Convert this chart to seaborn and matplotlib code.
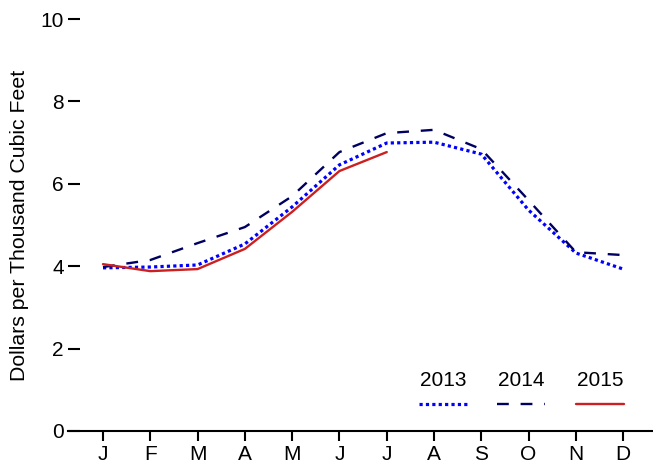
import numpy as np
import pandas as pd
import seaborn as sns
import matplotlib.pyplot as plt

meses = ["J", "F", "M", "A", "M", "J", "J", "A", "S", "O", "N", "D"]
precio_2013 = [3.96, 3.98, 4.03, 4.54, 5.44, 6.46, 6.99, 7.01, 6.72, 5.36, 4.32, 3.93]
precio_2014 = [3.98, 4.15, 4.56, 4.95, 5.70, 6.77, 7.23, 7.31, 6.84, 5.60, 4.34, 4.27]
precio_2015 = [4.05, 3.88, 3.93, 4.42, 5.32, 6.31, 6.77]

sns.set_style("white")
plt.rcParams['font.family'] = ['Liberation Sans', 'DejaVu Sans']
plt.rcParams['text.color'] = "black"
plt.rcParams['axes.labelcolor'] = "black"
plt.rcParams['xtick.color'] = "black"
plt.rcParams['ytick.color'] = "black"

fig = plt.figure(figsize=(6.53, 4.68), dpi=100)
ax = fig.add_axes([68/653, 37/468, 585/653, 412/468])

#estilos de cada serie
series = [
	("2013", precio_2013, "#0000ff", (0, (1, 1)), 2.3),
	("2014", precio_2014, "#000060", (0, (5, 5)), 1.7),
	("2015", precio_2015, "#cc2020", "-", 1.7),
]

for nombre, valores, color, estilo, ancho in series:
	df = pd.DataFrame({"x": np.arange(len(valores)), "y": valores})
	sns.lineplot(data=df, x="x", y="y", ax=ax, color=color, linewidth=ancho, linestyle=estilo)

ax.set_xlim(-0.74, 11.63)
ax.set_ylim(0, 10)
ax.set_xticks(range(12))
ax.set_xticklabels(meses)
ax.set_yticks([0, 2, 4, 6, 8, 10])
ax.set_xlabel("")
ax.set_ylabel("Dollars per Thousand Cubic Feet", fontsize=15.3, labelpad=8)

for s in ["top", "right", "left"]:
	ax.spines[s].set_visible(False)
ax.spines["bottom"].set_linewidth(1.5)
ax.spines["bottom"].set_color("black")

ax.tick_params(axis="x", direction="out", length=7, width=1.5, labelsize=15, pad=3, bottom=True)
ax.tick_params(axis="y", direction="in", length=8.5, width=1.5, labelsize=15, pad=3, left=True)

#leyenda manual: texto encima de la muestra de linea
pos_x = [(443 - 68) / 585, (521 - 68) / 585, (600 - 68) / 585]
for (nombre, valores, color, estilo, ancho), px in zip(series, pos_x):
	ax.text(px, (431 - 381) / 412, nombre, transform=ax.transAxes, ha="center", va="center", fontsize=15)
	ax.plot([px - 24 / 585, px + 24 / 585], [(431 - 404) / 412] * 2, transform=ax.transAxes,
		color=color, linewidth=ancho, linestyle=estilo, clip_on=False)

plt.savefig("out.png", dpi=100)
